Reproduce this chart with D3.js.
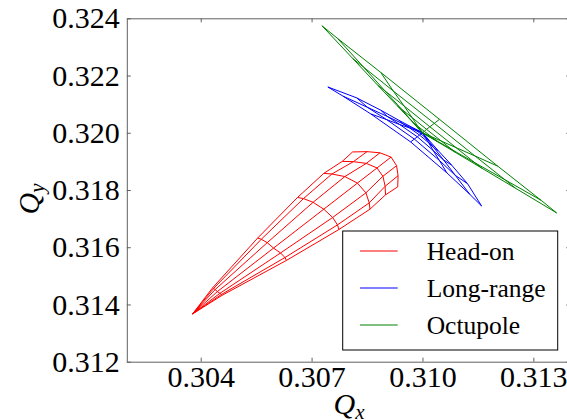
<!DOCTYPE html>
<html>
<head>
<meta charset="utf-8">
<script src="https://cdn.jsdelivr.net/npm/d3@7"></script>
<style>
  html, body { margin: 0; padding: 0; background: #fff; }
  svg { display: block; font-family: "Liberation Serif", "Times New Roman", serif; }
</style>
</head>
<body>
<svg id="chart" width="567" height="420"></svg>
<script>
// Amplitude grid: rows = amplitude in sigma, columns = angle in the x-y plane (deg)
const amplitudes = [0, 1, 2, 3, 4, 5, 6];
const angles = [0, 15, 30, 45, 60, 75, 90];

// Head-on beam-beam footprint
const headOnQx = [
  [0.30378, 0.30378, 0.30378, 0.30378, 0.30378, 0.30378, 0.30378],
  [0.30458, 0.30456, 0.30452, 0.30445, 0.30439, 0.30435, 0.30432],
  [0.30632, 0.30628, 0.30616, 0.30597, 0.30580, 0.30564, 0.30554],
  [0.30774, 0.30770, 0.30757, 0.30733, 0.30704, 0.30678, 0.30662],
  [0.30858, 0.30856, 0.30847, 0.30824, 0.30790, 0.30755, 0.30733],
  [0.30900, 0.30899, 0.30893, 0.30877, 0.30848, 0.30813, 0.30783],
  [0.30933, 0.30934, 0.30930, 0.30915, 0.30885, 0.30850, 0.30811]
];
const headOnQy = [
  [0.31367, 0.31367, 0.31367, 0.31367, 0.31367, 0.31367, 0.31367],
  [0.31432, 0.31435, 0.31439, 0.31445, 0.31452, 0.31456, 0.31458],
  [0.31554, 0.31564, 0.31580, 0.31597, 0.31616, 0.31628, 0.31632],
  [0.31662, 0.31678, 0.31704, 0.31733, 0.31757, 0.31770, 0.31774],
  [0.31733, 0.31755, 0.31790, 0.31824, 0.31847, 0.31856, 0.31858],
  [0.31783, 0.31813, 0.31848, 0.31877, 0.31893, 0.31899, 0.31900],
  [0.31811, 0.31850, 0.31885, 0.31915, 0.31930, 0.31934, 0.31933]
];

// Long-range beam-beam footprint
const longRangeQx = [
  [0.31000, 0.31000, 0.31000, 0.31000, 0.31000, 0.31000, 0.31000],
  [0.31005, 0.31004, 0.31002, 0.30999, 0.30996, 0.30994, 0.30993],
  [0.31019, 0.31014, 0.31007, 0.30996, 0.30984, 0.30976, 0.30972],
  [0.31043, 0.31032, 0.31017, 0.30992, 0.30965, 0.30946, 0.30937],
  [0.31079, 0.31057, 0.31029, 0.30986, 0.30938, 0.30905, 0.30887],
  [0.31122, 0.31089, 0.31046, 0.30978, 0.30903, 0.30851, 0.30822],
  [0.31160, 0.31128, 0.31066, 0.30968, 0.30860, 0.30785, 0.30744]
];
const longRangeQy = [
  [0.32000, 0.32000, 0.32000, 0.32000, 0.32000, 0.32000, 0.32000],
  [0.31993, 0.31994, 0.31996, 0.31999, 0.32002, 0.32004, 0.32005],
  [0.31972, 0.31976, 0.31984, 0.31996, 0.32007, 0.32014, 0.32019],
  [0.31937, 0.31946, 0.31965, 0.31992, 0.32017, 0.32032, 0.32043],
  [0.31887, 0.31905, 0.31938, 0.31986, 0.32029, 0.32057, 0.32079],
  [0.31822, 0.31851, 0.31903, 0.31978, 0.32046, 0.32089, 0.32122],
  [0.31744, 0.31785, 0.31860, 0.31968, 0.32066, 0.32128, 0.32160]
];

// Octupole footprint
const octupoleQx = [
  [0.31000, 0.31000, 0.31000, 0.31000, 0.31000, 0.31000, 0.31000],
  [0.31010, 0.31009, 0.31006, 0.31001, 0.30997, 0.30994, 0.30992],
  [0.31040, 0.31036, 0.31023, 0.31005, 0.30987, 0.30974, 0.30970],
  [0.31091, 0.31080, 0.31051, 0.31011, 0.30972, 0.30943, 0.30932],
  [0.31161, 0.31142, 0.31091, 0.31020, 0.30950, 0.30898, 0.30879],
  [0.31252, 0.31223, 0.31142, 0.31032, 0.30921, 0.30841, 0.30811],
  [0.31363, 0.31321, 0.31204, 0.31046, 0.30887, 0.30770, 0.30728]
];
const octupoleQy = [
  [0.32000, 0.32000, 0.32000, 0.32000, 0.32000, 0.32000, 0.32000],
  [0.31992, 0.31993, 0.31997, 0.32001, 0.32006, 0.32009, 0.32010],
  [0.31969, 0.31974, 0.31987, 0.32005, 0.32023, 0.32037, 0.32042],
  [0.31930, 0.31941, 0.31971, 0.32012, 0.32053, 0.32083, 0.32094],
  [0.31876, 0.31895, 0.31948, 0.32021, 0.32094, 0.32147, 0.32166],
  [0.31806, 0.31836, 0.31919, 0.32033, 0.32146, 0.32229, 0.32260],
  [0.31720, 0.31764, 0.31883, 0.32047, 0.32211, 0.32330, 0.32374]
];

const seriesNames = ["Head-on", "Long-range", "Octupole"];
const seriesColors = ["#ff0000", "#0000ff", "#008000"];

const xTicks = [0.304, 0.307, 0.310, 0.313];
const yTicks = [0.312, 0.314, 0.316, 0.318, 0.320, 0.322, 0.324];
const xDomain = [0.302, 0.314];
const yDomain = [0.312, 0.324];

const series = [
  { name: seriesNames[0], color: seriesColors[0], qx: headOnQx, qy: headOnQy },
  { name: seriesNames[1], color: seriesColors[1], qx: longRangeQx, qy: longRangeQy },
  { name: seriesNames[2], color: seriesColors[2], qx: octupoleQx, qy: octupoleQy }
];

// ---- layout ----
const plot = { left: 126.8, right: 570.3, top: 18.3, bottom: 361.7 };
const svg = d3.select("#chart");

const x = d3.scaleLinear().domain(xDomain).range([plot.left, plot.right]);
const y = d3.scaleLinear().domain(yDomain).range([plot.bottom, plot.top]);

svg.append("defs").append("clipPath").attr("id", "plotClip")
  .append("rect")
  .attr("x", plot.left).attr("y", plot.top)
  .attr("width", plot.right - plot.left).attr("height", plot.bottom - plot.top);

// ---- footprint meshes ----
const line = d3.line().x(d => x(d[0])).y(d => y(d[1]));
const meshLayer = svg.append("g").attr("clip-path", "url(#plotClip)");

series.forEach(s => {
  const g = meshLayer.append("g")
    .attr("fill", "none")
    .attr("stroke", s.color)
    .attr("stroke-width", 1);
  // constant-amplitude lines across the angles
  amplitudes.forEach((a, i) => {
    if (i === 0) return;
    const pts = angles.map((t, j) => [s.qx[i][j], s.qy[i][j]]);
    g.append("path").attr("d", line(pts));
  });
  // constant-angle lines outward in amplitude
  angles.forEach((t, j) => {
    const pts = amplitudes.map((a, i) => [s.qx[i][j], s.qy[i][j]]);
    g.append("path").attr("d", line(pts));
  });
});

// ---- axes (ticks point inward on all four sides) ----
const axisColor = "#606060";
const fmt = d3.format(".3f");
const serif = "'Liberation Serif', 'Times New Roman', serif";

function styleAxis(g) {
  g.attr("font-family", serif);
  g.select(".domain").attr("stroke", axisColor).attr("stroke-width", 1);
  g.selectAll(".tick line").attr("stroke", axisColor).attr("stroke-width", 1);
  g.selectAll(".tick text")
    .attr("fill", "#000")
    .attr("font-family", serif)
    .attr("font-size", 30);
}

svg.append("g")
  .attr("transform", `translate(0,${plot.bottom})`)
  .call(d3.axisBottom(x).tickValues(xTicks).tickFormat(fmt)
    .tickSizeInner(-4).tickSizeOuter(0).tickPadding(4))
  .call(styleAxis);

svg.append("g")
  .attr("transform", `translate(0,${plot.top})`)
  .call(d3.axisTop(x).tickValues(xTicks).tickFormat("")
    .tickSizeInner(-4).tickSizeOuter(0))
  .call(styleAxis);

svg.append("g")
  .attr("transform", `translate(${plot.left},0)`)
  .call(d3.axisLeft(y).tickValues(yTicks).tickFormat(fmt)
    .tickSizeInner(-4).tickSizeOuter(0).tickPadding(7))
  .call(styleAxis);

svg.append("g")
  .attr("transform", `translate(${plot.right},0)`)
  .call(d3.axisRight(y).tickValues(yTicks).tickFormat("")
    .tickSizeInner(-4).tickSizeOuter(0))
  .call(styleAxis);

// ---- axis titles ----
const xTitle = svg.append("text")
  .attr("x", (plot.left + plot.right) / 2 + 0.5)
  .attr("y", 414)
  .attr("text-anchor", "middle")
  .attr("font-family", serif)
  .attr("font-size", 30)
  .attr("font-style", "italic");
xTitle.append("tspan").text("Q");
xTitle.append("tspan").attr("font-size", 21).attr("dy", 5).text("x");

const yTitle = svg.append("text")
  .attr("transform", `translate(39,${(plot.top + plot.bottom) / 2 + 9}) rotate(-90)`)
  .attr("text-anchor", "middle")
  .attr("font-family", serif)
  .attr("font-size", 30)
  .attr("font-style", "italic");
yTitle.append("tspan").text("Q");
yTitle.append("tspan").attr("font-size", 21).attr("dy", 5).text("y");

// ---- legend ----
const legend = svg.append("g").attr("font-family", serif);
const box = { x: 342.7, y: 231, w: 215, h: 119 };
legend.append("rect")
  .attr("x", box.x).attr("y", box.y)
  .attr("width", box.w).attr("height", box.h)
  .attr("fill", "#fff").attr("stroke", "#000").attr("stroke-width", 1);

const rowY = d3.scalePoint().domain(seriesNames).range([251, 325]);
series.forEach(s => {
  const cy = rowY(s.name);
  legend.append("line")
    .attr("x1", 360).attr("x2", 397.7)
    .attr("y1", cy).attr("y2", cy)
    .attr("stroke", s.color).attr("stroke-width", 1);
  legend.append("text")
    .attr("x", 426.7).attr("y", cy + 9)
    .attr("font-size", 25.5)
    .text(s.name);
});
</script>
</body>
</html>
